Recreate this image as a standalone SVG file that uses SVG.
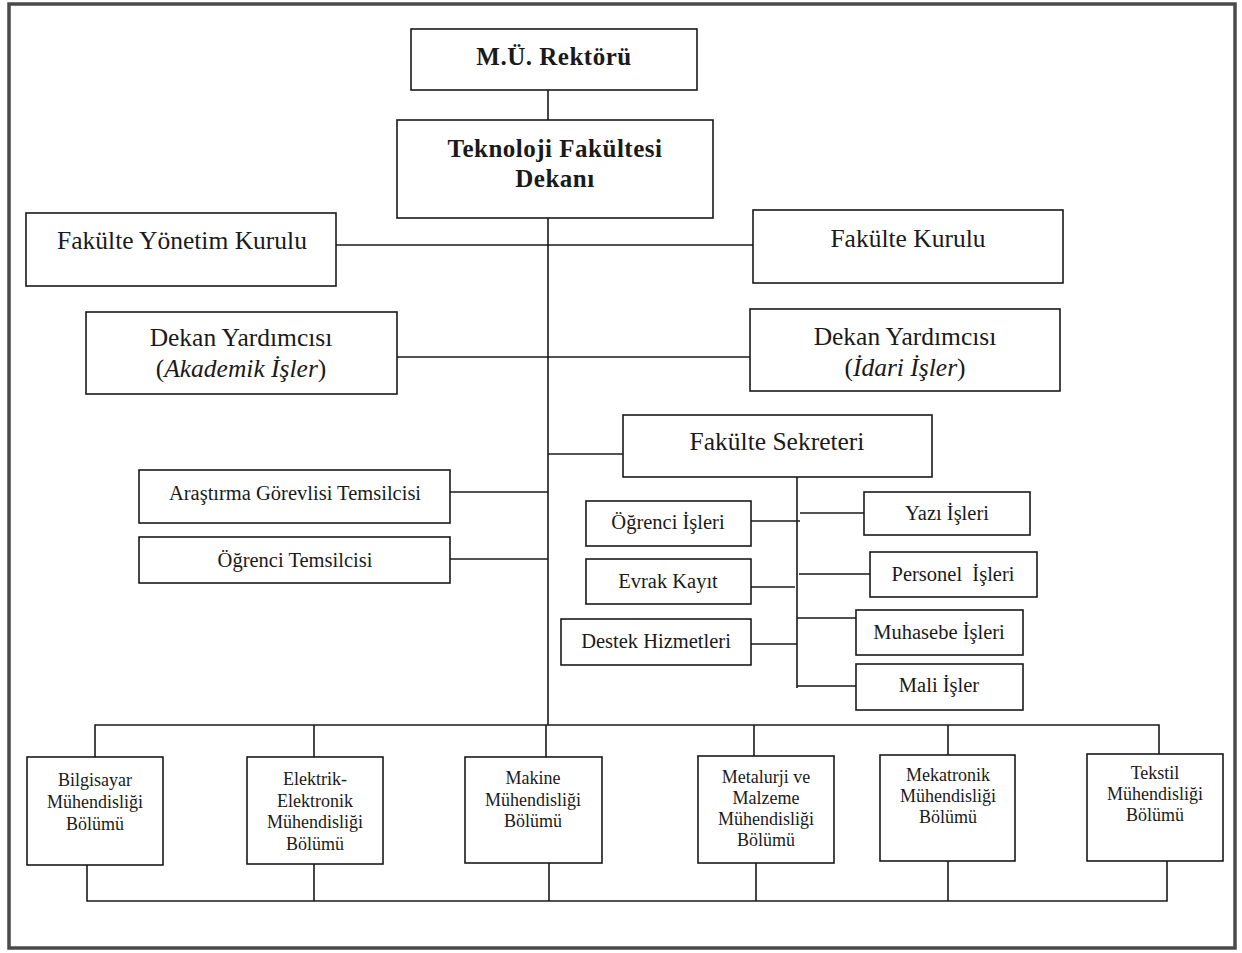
<svg xmlns="http://www.w3.org/2000/svg" width="1242" height="953" viewBox="0 0 1242 953">
<style>
.box{fill:#fff;stroke:#1a1a1a;stroke-width:1.6}
.ln{fill:none;stroke:#1a1a1a;stroke-width:1.6}
text{font-family:"Liberation Serif","Times New Roman",serif;fill:#1a1a1a;text-anchor:middle}
.t1{font-size:25px;font-weight:bold;letter-spacing:0.5px}
.t2{font-size:25.5px}
.t3{font-size:20.5px}
.t4{font-size:18px}
.it{font-style:italic}
</style>
<rect x="0" y="0" width="1242" height="953" fill="#fff"/>
<rect x="9" y="4" width="1226" height="944" fill="none" stroke="#4a4a4a" stroke-width="3.5"/>
<g id="connectors">
<path class="ln" d="M548 90V120M548 218V725"/>
<path class="ln" d="M336 245H753"/>
<path class="ln" d="M397 357H750"/>
<path class="ln" d="M548 454H623"/>
<path class="ln" d="M450 492H548M450 559H548"/>
<path class="ln" d="M797 477V688"/>
<path class="ln" d="M751 521H800M800 513H868M751 587H795M799 574H870M751 644H797M797 618H856M797 686H856"/>
<path class="ln" d="M95 757V725H1159V754"/>
<path class="ln" d="M314 725V757M546 725V757M754 725V756M948 725V755"/>
<path class="ln" d="M87 842V901H1167V861"/>
<path class="ln" d="M314 864V901M549 863V901M756 863V901M948 861V901"/>
</g>
<g id="rektor"><rect class="box" x="411" y="29" width="286" height="61"/><text class="t1" x="554" y="65">M.Ü. Rektörü</text></g>
<g id="dekan"><rect class="box" x="397" y="120" width="316" height="98"/><text class="t1" x="555" y="157">Teknoloji Fakültesi</text><text class="t1" x="555" y="187">Dekanı</text></g>
<g id="yonetim-kurulu"><rect class="box" x="26" y="213" width="310" height="73"/><text class="t2" x="182" y="249">Fakülte Yönetim Kurulu</text></g>
<g id="fakulte-kurulu"><rect class="box" x="753" y="210" width="310" height="73"/><text class="t2" x="908" y="247">Fakülte Kurulu</text></g>
<g id="dekan-yrd-akademik"><rect class="box" x="86" y="312" width="311" height="82"/><text class="t2" x="241" y="346">Dekan Yardımcısı</text><text class="t2" x="241" y="377">(<tspan class="it">Akademik İşler</tspan>)</text></g>
<g id="dekan-yrd-idari"><rect class="box" x="750" y="309" width="310" height="82"/><text class="t2" x="905" y="345">Dekan Yardımcısı</text><text class="t2" x="905" y="376">(<tspan class="it">İdari İşler</tspan>)</text></g>
<g id="fakulte-sekreteri"><rect class="box" x="623" y="415" width="309" height="62"/><text class="t2" x="777" y="450">Fakülte Sekreteri</text></g>
<g id="arastirma-gorevlisi"><rect class="box" x="139" y="470" width="311" height="53"/><text class="t3" x="295" y="500">Araştırma Görevlisi Temsilcisi</text></g>
<g id="ogrenci-temsilcisi"><rect class="box" x="139" y="537" width="311" height="46"/><text class="t3" x="295" y="567">Öğrenci Temsilcisi</text></g>
<g id="ogrenci-isleri"><rect class="box" x="586" y="501" width="165" height="45"/><text class="t3" x="668" y="529">Öğrenci İşleri</text></g>
<g id="evrak-kayit"><rect class="box" x="586" y="559" width="165" height="45"/><text class="t3" x="668" y="588">Evrak Kayıt</text></g>
<g id="destek-hizmetleri"><rect class="box" x="561" y="619" width="190" height="46"/><text class="t3" x="656" y="648">Destek Hizmetleri</text></g>
<g id="yazi-isleri"><rect class="box" x="864" y="492" width="166" height="43"/><text class="t3" x="947" y="520">Yazı İşleri</text></g>
<g id="personel-isleri"><rect class="box" x="870" y="552" width="167" height="45"/><text class="t3" x="953" y="581" xml:space="preserve">Personel  İşleri</text></g>
<g id="muhasebe-isleri"><rect class="box" x="856" y="610" width="167" height="45"/><text class="t3" x="939" y="639">Muhasebe İşleri</text></g>
<g id="mali-isler"><rect class="box" x="856" y="664" width="167" height="46"/><text class="t3" x="939" y="692">Mali İşler</text></g>
<g id="bilgisayar"><rect class="box" x="27" y="757" width="136" height="108"/><text class="t4" x="95" y="786">Bilgisayar</text><text class="t4" x="95" y="808">Mühendisliği</text><text class="t4" x="95" y="830">Bölümü</text></g>
<g id="elektrik"><rect class="box" x="247" y="757" width="136" height="107"/><text class="t4" x="315" y="785">Elektrik-</text><text class="t4" x="315" y="807">Elektronik</text><text class="t4" x="315" y="828">Mühendisliği</text><text class="t4" x="315" y="850">Bölümü</text></g>
<g id="makine"><rect class="box" x="465" y="757" width="137" height="106"/><text class="t4" x="533" y="784">Makine</text><text class="t4" x="533" y="806">Mühendisliği</text><text class="t4" x="533" y="827">Bölümü</text></g>
<g id="metalurji"><rect class="box" x="698" y="756" width="136" height="107"/><text class="t4" x="766" y="783">Metalurji ve</text><text class="t4" x="766" y="804">Malzeme</text><text class="t4" x="766" y="825">Mühendisliği</text><text class="t4" x="766" y="846">Bölümü</text></g>
<g id="mekatronik"><rect class="box" x="880" y="755" width="135" height="106"/><text class="t4" x="948" y="781">Mekatronik</text><text class="t4" x="948" y="802">Mühendisliği</text><text class="t4" x="948" y="823">Bölümü</text></g>
<g id="tekstil"><rect class="box" x="1087" y="754" width="136" height="107"/><text class="t4" x="1155" y="779">Tekstil</text><text class="t4" x="1155" y="800">Mühendisliği</text><text class="t4" x="1155" y="821">Bölümü</text></g>
</svg>
